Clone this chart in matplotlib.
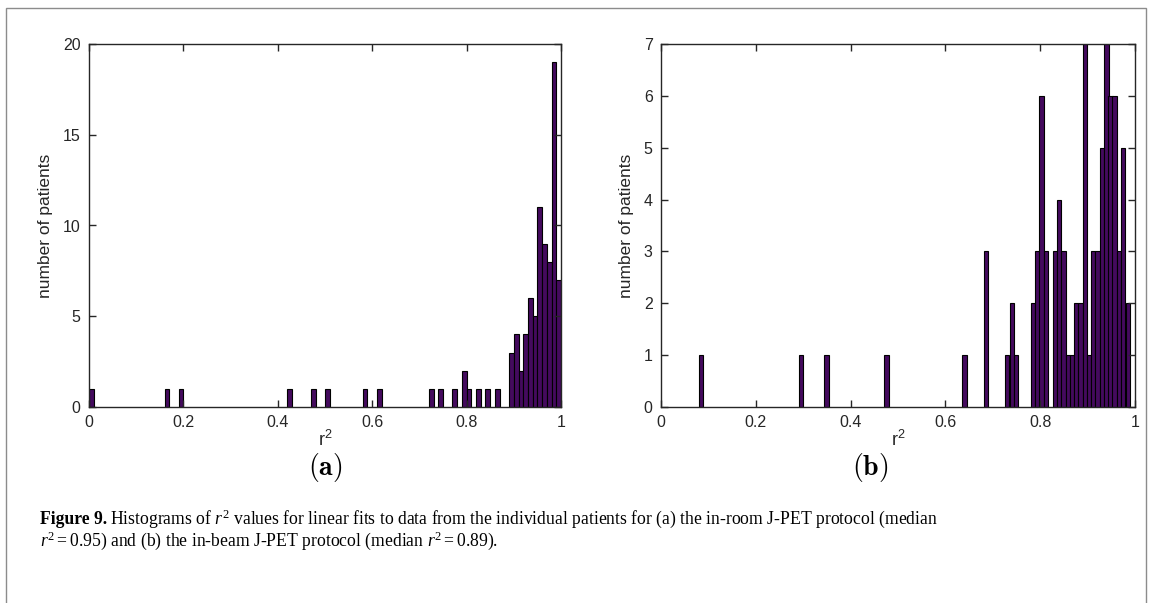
import numpy as np
import matplotlib
matplotlib.use("Agg")
import matplotlib.pyplot as plt
from matplotlib.patches import Rectangle

plt.rcParams['font.family'] = ['Liberation Sans', 'DejaVu Sans']
plt.rcParams['mathtext.fontset'] = 'custom'
plt.rcParams['mathtext.it'] = 'Liberation Serif:italic'
plt.rcParams['mathtext.rm'] = 'Liberation Serif'
plt.rcParams['mathtext.default'] = 'regular'

# (a) in-room protocol: bin centres (bin width 0.01) and counts
room_centres = [0.005, 0.165, 0.195, 0.425, 0.475, 0.505, 0.585, 0.615,
                0.725, 0.745, 0.775, 0.795, 0.805, 0.825, 0.845, 0.865,
                0.895, 0.905, 0.915, 0.925, 0.935, 0.945, 0.955, 0.965,
                0.975, 0.985, 0.995]
room_counts = [1, 1, 1, 1, 1, 1, 1, 1,
               1, 1, 1, 2, 1, 1, 1, 1,
               3, 4, 2, 4, 6, 5, 11, 9,
               8, 19, 7]

# (b) in-beam protocol: bin centres (bin width ~0.0092) and counts
beam_centres = [0.084, 0.295, 0.349, 0.476, 0.640, 0.685,
                0.730, 0.740, 0.749, 0.785, 0.794, 0.803, 0.812,
                0.831, 0.840, 0.849, 0.858, 0.867, 0.876, 0.885,
                0.894, 0.903, 0.912, 0.921, 0.930, 0.940, 0.948,
                0.957, 0.966, 0.975, 0.985]
beam_counts = [1, 1, 1, 1, 1, 3,
               1, 2, 1, 2, 3, 6, 3,
               3, 4, 3, 1, 1, 2, 2,
               7, 1, 3, 3, 5, 7, 6,
               6, 3, 5, 2]

xticks = [0, 0.2, 0.4, 0.6, 0.8, 1]
xtick_labels = ['0', '0.2', '0.4', '0.6', '0.8', '1']
room_yticks = [0, 5, 10, 15, 20]
beam_yticks = [0, 1, 2, 3, 4, 5, 6, 7]

bar_face = '#440a5e'
ink = '#262626'

fig = plt.figure(figsize=(11.53, 6.03), dpi=100)
W, H = 1153, 603
ax1 = fig.add_axes([89 / W, 1 - 407 / H, 472 / W, 363 / H])
ax2 = fig.add_axes([661 / W, 1 - 407 / H, 474 / W, 363 / H])


def style(ax, yticks, ymax):
    ax.set_xlim(0, 1)
    ax.set_ylim(0, ymax)
    ax.set_xticks(xticks)
    ax.set_xticklabels(xtick_labels)
    ax.set_yticks(yticks)
    ax.tick_params(direction='in', top=True, right=True, length=5,
                   width=1, colors=ink, labelsize=11.5, pad=6)
    for s in ax.spines.values():
        s.set_color(ink)
        s.set_linewidth(1)
    ax.set_xlabel('r$^2$', fontsize=13, color=ink, labelpad=0)
    ax.set_ylabel('number of patients', fontsize=12.5, color=ink, labelpad=7)


ax1.bar(room_centres, room_counts, width=0.01, color=bar_face,
        edgecolor='black', linewidth=0.8)
style(ax1, room_yticks, 20)

ax2.bar(beam_centres, beam_counts, width=0.0092, color=bar_face,
        edgecolor='black', linewidth=0.8)
style(ax2, beam_yticks, 7)

# panel letters
fig.text(325 / W, 1 - 467 / H, r'$\mathbf{(a)}$', math_fontfamily='cm',
         fontsize=20, ha='center', va='center', color='black')
fig.text(870 / W, 1 - 467 / H, r'$\mathbf{(b)}$', math_fontfamily='cm',
         fontsize=20, ha='center', va='center', color='black')

# frame around the figure
fig.add_artist(Rectangle((6 / W, -0.02), 1140 / W, 1 - 8 / H + 0.02,
                         transform=fig.transFigure, fill=False,
                         edgecolor='#8c8c8c', linewidth=1))

# caption
cap_size = 12.7
bold = fig.text(40 / W, 1 - 524 / H, 'Figure 9.', family='Liberation Serif',
                fontweight='bold', fontsize=cap_size, va='baseline')
renderer = fig.canvas.get_renderer()
bb = bold.get_window_extent(renderer)
x_after = (bb.x1 + 3) / W
fig.text(x_after, 1 - 524 / H,
         r'Histograms of $\mathit{r}^2$ values for linear fits to data from the individual '
         r'patients for (a) the in-room J-PET protocol (median',
         family='Liberation Serif', fontsize=cap_size, va='baseline')
fig.text(40 / W, 1 - 546 / H,
         r'$\mathit{r}^2 = 0.95$) and (b) the in-beam J-PET protocol (median $\mathit{r}^2 = 0.89$).',
         family='Liberation Serif', fontsize=cap_size, va='baseline')

fig.savefig('out.png', dpi=100)
